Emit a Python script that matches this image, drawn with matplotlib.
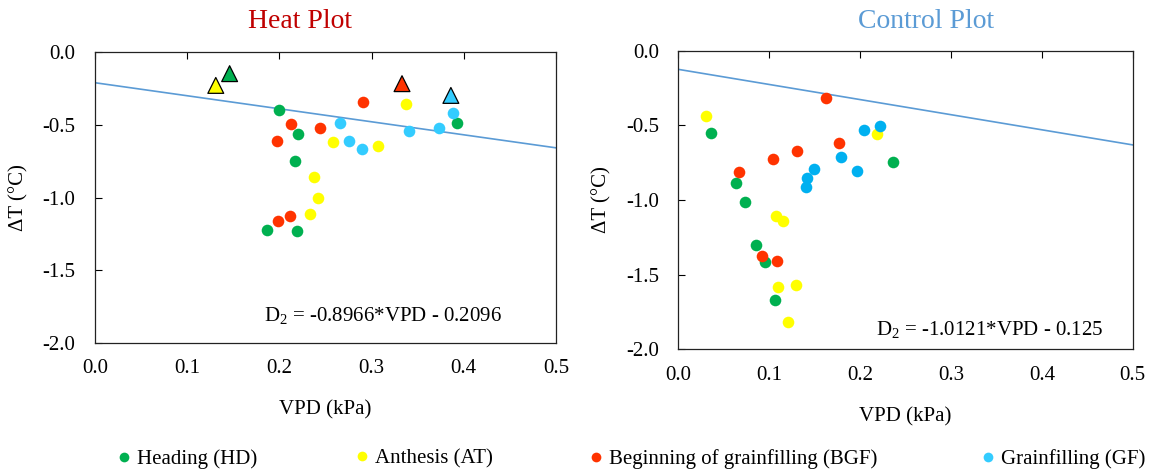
import matplotlib
matplotlib.use("Agg")
import matplotlib.pyplot as plt
from matplotlib.lines import Line2D
import numpy as np

plt.rcParams['font.family'] = ['Liberation Serif', 'DejaVu Serif']
plt.rcParams['mathtext.fontset'] = 'custom'
plt.rcParams['mathtext.rm'] = 'Liberation Serif'
plt.rcParams['mathtext.it'] = 'Liberation Serif:italic'

# ---- Heat plot data (VPD kPa, dT degC)
heat_hd_x = [0.200, 0.220, 0.217, 0.187, 0.219, 0.393]
heat_hd_y = [-0.395, -0.561, -0.752, -1.223, -1.228, -0.487]
heat_at_x = [0.337, 0.258, 0.307, 0.237, 0.242, 0.233]
heat_at_y = [-0.354, -0.618, -0.644, -0.860, -1.000, -1.113]
heat_bgf_x = [0.197, 0.213, 0.244, 0.291, 0.199, 0.212]
heat_bgf_y = [-0.614, -0.497, -0.524, -0.343, -1.161, -1.126]
heat_gf_x = [0.266, 0.275, 0.290, 0.341, 0.373, 0.388]
heat_gf_y = [-0.490, -0.609, -0.665, -0.543, -0.522, -0.421]
# triangles (means)
heat_tri_x = [0.146, 0.131, 0.333, 0.386]
heat_tri_y = [-0.147, -0.228, -0.216, -0.297]
heat_slope, heat_icpt = -0.8966, -0.2096

# ---- Control plot data
ctrl_hd_x = [0.036, 0.064, 0.073, 0.086, 0.095, 0.106, 0.236]
ctrl_hd_y = [-0.549, -0.884, -1.013, -1.304, -1.413, -1.672, -0.748]
ctrl_at_x = [0.031, 0.219, 0.107, 0.115, 0.110, 0.129, 0.121]
ctrl_at_y = [-0.438, -0.560, -1.105, -1.141, -1.583, -1.569, -1.817]
ctrl_bgf_x = [0.163, 0.177, 0.131, 0.104, 0.067, 0.092, 0.109]
ctrl_bgf_y = [-0.319, -0.621, -0.674, -0.723, -0.815, -1.377, -1.406]
ctrl_gf_x = [0.204, 0.222, 0.179, 0.149, 0.142, 0.141, 0.197]
ctrl_gf_y = [-0.533, -0.502, -0.712, -0.790, -0.853, -0.913, -0.804]
ctrl_slope, ctrl_icpt = -1.0121, -0.125

labels = ["Heading (HD)", "Anthesis (AT)", "Beginning of grainfilling (BGF)", "Grainfilling (GF)"]
green, yellow, red = "#00B050", "#FFFF00", "#FF3300"
blue_h, blue_c = "#33CCFF", "#00B0F0"
line_c = "#5B9BD5"

fig = plt.figure(figsize=(11.53, 4.72), dpi=100)
ax1 = fig.add_axes([0.0824, 0.2739, 0.3998, 0.6153])
ax2 = fig.add_axes([0.5883, 0.2600, 0.3941, 0.6326])

def style(ax):
    ax.set_xlim(0, 0.5)
    ax.set_ylim(-2.0, 0.0)
    ax.set_xticks(np.arange(0, 0.51, 0.1))
    ax.set_yticks(np.arange(-2.0, 0.01, 0.5))
    ax.set_xticklabels(["%.1f" % v for v in np.arange(0, 0.51, 0.1)])
    ax.set_yticklabels(["%.1f" % v for v in np.arange(-2.0, 0.01, 0.5)])
    ax.tick_params(axis='x', top=True, bottom=False, direction='in', length=5,
                   labelsize=15, pad=12)
    ax.tick_params(axis='y', left=True, direction='in', length=5, labelsize=15, pad=14)
    for s in ax.spines.values():
        s.set_linewidth(0.9)
        s.set_color("#222222")
    ax.set_xlabel("VPD (kPa)", fontsize=15, labelpad=16)
    ax.set_ylabel("\u0394T (\u00b0C)", fontsize=15, labelpad=10)

ms = 70
# heat
ax1.scatter(heat_hd_x, heat_hd_y, s=ms, c=green, lw=0, zorder=3)
ax1.scatter(heat_at_x, heat_at_y, s=ms, c=yellow, lw=0, zorder=3)
ax1.scatter(heat_bgf_x, heat_bgf_y, s=ms, c=red, lw=0, zorder=3)
ax1.scatter(heat_gf_x, heat_gf_y, s=ms, c=blue_h, lw=0, zorder=3)
ax1.scatter(heat_tri_x, heat_tri_y, s=130, marker='^', c=[green, yellow, red, blue_h],
            edgecolors='black', linewidths=0.9, zorder=4)
xl = np.array([0.0, 0.5])
ax1.plot(xl, heat_slope * xl + heat_icpt, color=line_c, lw=1.2, zorder=2)
ax1.text(0.312, -1.81, "D$_2$ = -0.8966*VPD - 0.2096", fontsize=15, ha='center', va='center')
style(ax1)

# control
ax2.scatter(ctrl_hd_x, ctrl_hd_y, s=ms, c=green, lw=0, zorder=3)
ax2.scatter(ctrl_at_x, ctrl_at_y, s=ms, c=yellow, lw=0, zorder=3)
ax2.scatter(ctrl_bgf_x, ctrl_bgf_y, s=ms, c=red, lw=0, zorder=3)
ax2.scatter(ctrl_gf_x, ctrl_gf_y, s=ms, c=blue_c, lw=0, zorder=3)
ax2.plot(xl, ctrl_slope * xl + ctrl_icpt, color=line_c, lw=1.2, zorder=2)
ax2.text(0.343, -1.865, "D$_2$ = -1.0121*VPD - 0.125", fontsize=15, ha='center', va='center')
style(ax2)

fig.text(300 / 1153, 1 - 22 / 472, "Heat Plot", fontsize=20, color="#C00000", ha='center', va='center')
fig.text(926 / 1153, 1 - 22 / 472, "Control Plot", fontsize=20, color=line_c, ha='center', va='center')

# legend, one entry at a time
leg_x = [118, 356, 590, 982]
for x, lab, col in zip(leg_x, labels, [green, yellow, red, blue_h]):
    h = Line2D([], [], marker='o', ls='', color=col, markersize=7, markeredgewidth=0)
    fig.legend([h], [lab], loc='center left', bbox_to_anchor=(x / 1153, 1 - 459 / 472),
               frameon=False, fontsize=15, handlelength=0.6, handletextpad=0.3,
               borderpad=0, borderaxespad=0)

fig.savefig("out.png", dpi=100)
